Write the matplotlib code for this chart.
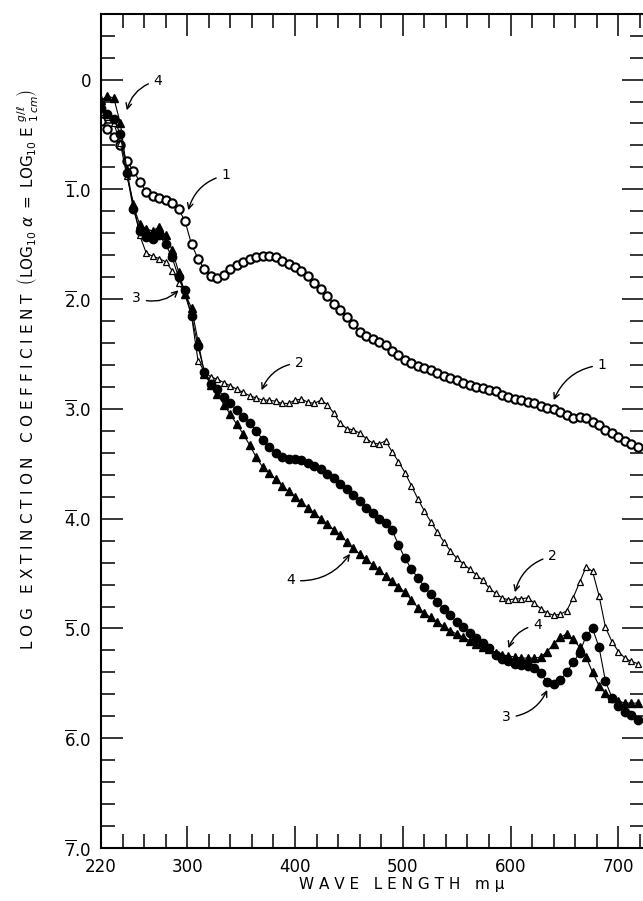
import numpy as np
import matplotlib
matplotlib.use('Agg')
import matplotlib.pyplot as plt
from matplotlib.ticker import MultipleLocator, FixedLocator, FixedFormatter

plt.rcParams['font.family'] = ['DejaVu Sans']
plt.rcParams['mathtext.fontset'] = 'dejavusans'

# wavelength grid, m-mu (one reading every 6 m-mu)
wavelength = np.arange(220, 724, 6)

# log extinction coefficient for the four curves
curve1 = [-0.38, -0.45, -0.52, -0.60, -0.74, -0.83, -0.93, -1.02, -1.06, -1.08,
          -1.10, -1.12, -1.18, -1.29, -1.50, -1.63, -1.73, -1.79, -1.81, -1.78,
          -1.73, -1.69, -1.66, -1.63, -1.62, -1.61, -1.61, -1.62, -1.65, -1.68,
          -1.71, -1.74, -1.79, -1.85, -1.91, -1.97, -2.04, -2.10, -2.16, -2.23,
          -2.30, -2.34, -2.36, -2.39, -2.42, -2.47, -2.51, -2.55, -2.58, -2.61,
          -2.63, -2.65, -2.67, -2.70, -2.72, -2.74, -2.76, -2.78, -2.80, -2.81,
          -2.83, -2.84, -2.87, -2.89, -2.91, -2.92, -2.94, -2.95, -2.97, -2.99,
          -3.00, -3.03, -3.06, -3.08, -3.07, -3.08, -3.12, -3.15, -3.19, -3.22,
          -3.26, -3.29, -3.32, -3.35]

curve2 = [-0.30, -0.34, -0.40, -0.58, -0.88, -1.12, -1.42, -1.58, -1.61, -1.63,
          -1.66, -1.74, -1.85, -1.96, -2.15, -2.56, -2.66, -2.71, -2.73, -2.76,
          -2.79, -2.82, -2.85, -2.88, -2.90, -2.92, -2.92, -2.93, -2.95, -2.95,
          -2.92, -2.91, -2.94, -2.95, -2.92, -2.96, -3.04, -3.13, -3.18, -3.19,
          -3.22, -3.27, -3.31, -3.32, -3.29, -3.39, -3.48, -3.58, -3.70, -3.82,
          -3.93, -4.03, -4.12, -4.21, -4.29, -4.36, -4.41, -4.46, -4.51, -4.56,
          -4.63, -4.68, -4.72, -4.74, -4.73, -4.73, -4.72, -4.77, -4.82, -4.86,
          -4.88, -4.87, -4.84, -4.72, -4.58, -4.44, -4.48, -4.70, -4.99, -5.12,
          -5.21, -5.27, -5.30, -5.32]

curve3 = [-0.26, -0.31, -0.36, -0.50, -0.85, -1.18, -1.38, -1.43, -1.45, -1.42,
          -1.50, -1.62, -1.80, -1.92, -2.15, -2.43, -2.66, -2.77, -2.82, -2.89,
          -2.95, -3.01, -3.07, -3.13, -3.20, -3.28, -3.35, -3.40, -3.44, -3.46,
          -3.46, -3.47, -3.49, -3.52, -3.55, -3.59, -3.63, -3.68, -3.73, -3.78,
          -3.84, -3.90, -3.95, -4.00, -4.04, -4.10, -4.24, -4.36, -4.46, -4.54,
          -4.62, -4.69, -4.76, -4.82, -4.88, -4.94, -4.99, -5.04, -5.09, -5.13,
          -5.18, -5.24, -5.28, -5.30, -5.32, -5.33, -5.34, -5.36, -5.41, -5.49,
          -5.51, -5.47, -5.40, -5.31, -5.22, -5.07, -5.00, -5.17, -5.48, -5.63,
          -5.71, -5.76, -5.79, -5.83]

curve4 = [-0.19, -0.15, -0.17, -0.40, -0.82, -1.15, -1.32, -1.36, -1.38, -1.34,
          -1.42, -1.55, -1.75, -1.95, -2.08, -2.38, -2.68, -2.78, -2.86, -2.96,
          -3.05, -3.14, -3.23, -3.33, -3.44, -3.53, -3.58, -3.64, -3.70, -3.75,
          -3.80, -3.85, -3.90, -3.95, -4.00, -4.05, -4.10, -4.15, -4.21, -4.27,
          -4.32, -4.37, -4.42, -4.47, -4.52, -4.57, -4.62, -4.67, -4.74, -4.81,
          -4.86, -4.90, -4.94, -4.98, -5.02, -5.05, -5.08, -5.11, -5.14, -5.17,
          -5.19, -5.22, -5.24, -5.25, -5.26, -5.27, -5.27, -5.27, -5.26, -5.21,
          -5.14, -5.08, -5.05, -5.10, -5.17, -5.26, -5.40, -5.52, -5.59, -5.63,
          -5.66, -5.68, -5.68, -5.68]

# curve labels: (text, label position, arrow tip)
labels = [('4', (273, -0.01), (244, -0.28)),
          ('1', (336, -0.87), (301, -1.19)),
          ('3', (253, -1.99), (292, -1.92)),
          ('2', (404, -2.58), (369, -2.83)),
          ('1', (685, -2.60), (640, -2.92)),
          ('4', (396, -4.56), (451, -4.32)),
          ('2', (639, -4.34), (604, -4.67)),
          ('4', (625, -4.97), (598, -5.18)),
          ('3', (596, -5.81), (634, -5.56))]

x_ticks = [220, 300, 400, 500, 600, 700]
y_ticks = [0, -1, -2, -3, -4, -5, -6, -7]
y_ticklabels = ['0'] + [r'$\overline{%d}$.0' % k for k in range(1, 8)]

fig = plt.figure(figsize=(6.43, 9.01), dpi=100)
ax = fig.add_axes([0.157, 0.0588, 0.845, 0.926])

ax.plot(wavelength, curve1, '-', color='black', lw=0.8, marker='o', ms=6,
        mfc='white', mec='black', mew=1.5)
ax.plot(wavelength, curve2, '-', color='black', lw=0.8, marker='^', ms=5,
        mfc='white', mec='black', mew=0.9)
ax.plot(wavelength, curve3, '-', color='black', lw=0.8, marker='o', ms=6,
        mfc='black', mec='black')
ax.plot(wavelength, curve4, '-', color='black', lw=0.8, marker='^', ms=6,
        mfc='black', mec='black')

for txt, pos, tip in labels:
    ax.annotate(txt, xy=tip, xytext=pos, ha='center', va='center', fontsize=10,
                arrowprops=dict(arrowstyle='->,head_length=0.4,head_width=0.2',
                                connectionstyle='arc3,rad=0.3', color='black',
                                lw=1.0, shrinkA=2, shrinkB=0))

ax.set_xlim(220, 724)
ax.set_ylim(-7.0, 0.6)

ax.xaxis.set_major_locator(FixedLocator(x_ticks))
ax.xaxis.set_minor_locator(MultipleLocator(20))
ax.yaxis.set_major_locator(FixedLocator(y_ticks))
ax.yaxis.set_major_formatter(FixedFormatter(y_ticklabels))
ax.yaxis.set_minor_locator(MultipleLocator(0.2))

ax.tick_params(which='both', direction='in', top=True, right=True, width=1.1,
               labelsize=12)
ax.tick_params(which='major', length=16, pad=7)
ax.tick_params(which='minor', length=10)
for sp in ax.spines.values():
    sp.set_linewidth(1.5)

fig.text(0.624, 0.01, 'W A V E   L E N G T H   m μ', ha='center', va='bottom',
         fontsize=11)
fig.text(0.042, 0.59,
         'L O G   E X T I N C T I O N   C O E F F I C I E N T  '
         r'$\left(\mathrm{LOG}_{10}\ \alpha\ =\ \mathrm{LOG}_{10}\ \mathrm{E}\ {}^{g/\ell}_{1\,cm}\right)$',
         rotation=90, ha='center', va='center', fontsize=11)

fig.savefig('out.png', dpi=100)
